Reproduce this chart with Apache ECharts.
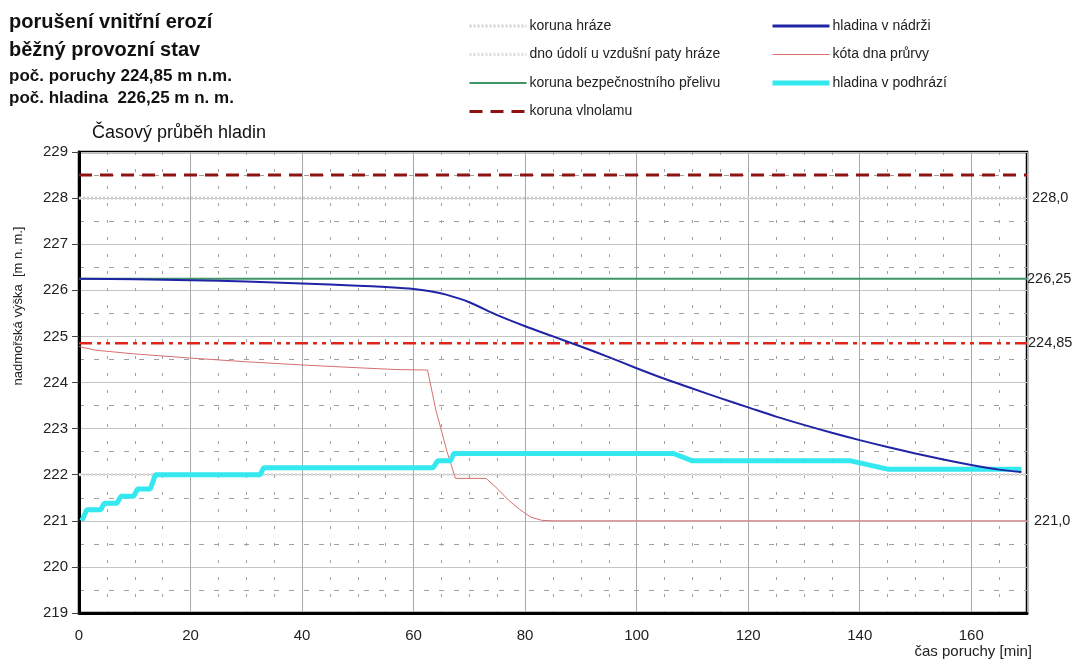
<!DOCTYPE html>
<html lang="cs">

<head>
    <meta charset="UTF-8">
    <title>Časový průběh hladin</title>
    <script src="https://cdn.jsdelivr.net/npm/echarts@6.0.0/dist/echarts.min.js"></script>
    <style>
        html, body { margin: 0; padding: 0; background: #fff; }
    </style>
</head>

<body>
    <div id="chart" style="width: 1073px; height: 666px;"></div>
    <script>
        // konstantní úrovně [m n. m.]
        var korunaHraze = 228.0;
        var dnoUdoli = 222.0;
        var korunaPrelivu = 226.25;
        var korunaVlnolamu = 228.5;
        var pocPoruchy = 224.85;
        var casRozsah = [0, 170];

        // hladina v nádrži
        var tNadrz = [0, 10, 20, 30, 40, 50, 55, 60, 63, 66, 70, 75, 80, 85, 90, 95, 100, 105, 110, 115, 120, 125, 130, 135, 140, 145, 150, 155, 160, 165, 169];
        var hNadrz = [226.25, 226.24, 226.22, 226.19, 226.15, 226.1, 226.07, 226.03, 225.98, 225.9, 225.74, 225.46, 225.22, 225.0, 224.78, 224.55, 224.31, 224.08, 223.87, 223.66, 223.46, 223.26, 223.08, 222.91, 222.75, 222.6, 222.46, 222.33, 222.21, 222.11, 222.06];

        // kóta dna průrvy
        var tPrurva = [0, 3, 10, 20, 30, 40, 50, 57, 62.5, 64, 66, 67.5, 73, 75, 77, 79, 81, 83, 85, 170];
        var hPrurva = [224.78, 224.7, 224.62, 224.53, 224.45, 224.38, 224.32, 224.28, 224.27, 223.4, 222.5, 221.92, 221.92, 221.7, 221.45, 221.25, 221.08, 221.01, 221.0, 221.0];

        // hladina v podhrází
        var tPodhrazi = [0.5, 1.4, 3.9, 4.5, 6.8, 7.5, 9.8, 10.5, 12.8, 13.7, 32.5, 33.1, 63.5, 64.3, 66.6, 67.2, 106.6, 110, 138.4, 145, 169];
        var hPodhrazi = [221.0, 221.24, 221.24, 221.38, 221.38, 221.53, 221.53, 221.69, 221.69, 222.0, 222.0, 222.15, 222.15, 222.3, 222.3, 222.46, 222.46, 222.3, 222.3, 222.12, 222.12];

        function pairs(xs, ys) {
            return xs.map(function (x, i) { return [x, ys[i]]; });
        }
        function level(v) {
            return [[casRozsah[0], v], [casRozsah[1], v]];
        }
        function endLbl(text, dist) {
            return {
                show: true,
                formatter: text,
                color: '#222',
                fontSize: 14.5,
                fontFamily: 'Liberation Sans',
                distance: dist
            };
        }

        var font = 'Liberation Sans';
        var chart = echarts.init(document.getElementById('chart'));

        var legendBase = {
            orient: 'vertical',
            top: 14,
            itemWidth: 57,
            itemHeight: 14,
            itemGap: 14.5,
            selectedMode: false,
            itemStyle: { opacity: 0 },
            lineStyle: { width: 'inherit' },
            textStyle: { fontSize: 14, color: '#222', padding: [0, 0, 0, -2] }
        };

        var option = {
            backgroundColor: '#fff',
            animation: false,
            textStyle: { fontFamily: font },
            title: [
                { text: 'porušení vnitřní erozí', left: 4, top: 7, textStyle: { fontSize: 20, fontWeight: 'bold', color: '#111', fontFamily: font } },
                { text: 'běžný provozní stav', left: 4, top: 35, textStyle: { fontSize: 20, fontWeight: 'bold', color: '#111', fontFamily: font } },
                { text: 'poč. poruchy 224,85 m n.m.', left: 4, top: 63, textStyle: { fontSize: 17, fontWeight: 'bold', color: '#111', fontFamily: font } },
                { text: 'poč. hladina  226,25 m n. m.', left: 4, top: 85, textStyle: { fontSize: 17, fontWeight: 'bold', color: '#111', fontFamily: font } },
                { text: 'Časový průběh hladin', left: 87, top: 119, textStyle: { fontSize: 18, fontWeight: 'normal', color: '#111', fontFamily: font } }
            ],
            legend: [
                Object.assign({}, legendBase, {
                    left: 463,
                    data: [
                        { name: 'koruna hráze', lineStyle: { width: 3 } },
                        { name: 'dno údolí u vzdušní paty hráze', lineStyle: { width: 3 } },
                        { name: 'koruna bezpečnostního přelivu', lineStyle: { width: 2 } },
                        { name: 'koruna vlnolamu', lineStyle: { width: 3 } }
                    ]
                }),
                Object.assign({}, legendBase, {
                    left: 765,
                    data: [
                        { name: 'hladina v nádrži', lineStyle: { width: 3 } },
                        { name: 'kóta dna průrvy', lineStyle: { width: 1 } },
                        { name: 'hladina v podhrází', lineStyle: { width: 5 } }
                    ]
                })
            ],
            grid: {
                left: 79,
                right: 46,
                top: 152,
                bottom: 53,
                show: true,
                borderColor: '#000',
                borderWidth: 2.5,
                backgroundColor: '#fff'
            },
            xAxis: {
                type: 'value',
                min: casRozsah[0],
                max: casRozsah[1],
                interval: 20,
                axisLine: { onZero: false, lineStyle: { color: '#000', width: 3 } },
                axisTick: { show: false },
                axisLabel: { fontSize: 15, color: '#222', margin: 15, showMaxLabel: false },
                splitLine: { lineStyle: { color: '#a8a8a8', width: 1 } },
                minorTick: { show: false, splitNumber: 4 },
                minorSplitLine: { show: true, lineStyle: { color: '#a0a0a0', width: 1, type: [3, 14] } }
            },
            yAxis: {
                type: 'value',
                min: 219,
                max: 229,
                interval: 1,
                axisLine: { lineStyle: { color: '#000', width: 3 } },
                axisTick: { show: true, length: 7, lineStyle: { color: '#444', width: 1 } },
                axisLabel: { fontSize: 15, color: '#222', margin: 11 },
                splitLine: { lineStyle: { color: '#c4c4c4', width: 1 } },
                minorTick: { show: false, splitNumber: 2 },
                minorSplitLine: { show: true, lineStyle: { color: '#a0a0a0', width: 1, type: [5, 10] } }
            },
            graphic: [
                {
                    type: 'text',
                    right: 41,
                    top: 644,
                    style: { text: 'čas poruchy [min]', fontSize: 15, fill: '#222', fontFamily: font }
                },
                {
                    type: 'text',
                    x: 18,
                    y: 306,
                    rotation: Math.PI / 2,
                    style: {
                        text: 'nadmořská výška  [m n. m.]',
                        fontSize: 13,
                        fill: '#222',
                        fontFamily: font,
                        align: 'center',
                        verticalAlign: 'middle'
                    }
                }
            ],
            series: [
                {
                    name: 'koruna hráze',
                    type: 'line',
                    symbol: 'none',
                    z: 3,
                    data: level(korunaHraze),
                    lineStyle: { color: '#d0d0d0', width: 3, type: [2, 2] },
                    itemStyle: { color: '#d0d0d0' },
                    endLabel: endLbl('228,0', 5)
                },
                {
                    name: 'dno údolí u vzdušní paty hráze',
                    type: 'line',
                    symbol: 'none',
                    z: 3,
                    data: level(dnoUdoli),
                    lineStyle: { color: '#dcdcdc', width: 3, type: [2, 2] },
                    itemStyle: { color: '#dcdcdc' }
                },
                {
                    name: 'koruna bezpečnostního přelivu',
                    type: 'line',
                    symbol: 'none',
                    z: 4,
                    data: level(korunaPrelivu),
                    lineStyle: { color: '#3f9468', width: 2 },
                    itemStyle: { color: '#3f9468' },
                    endLabel: endLbl('226,25', 0)
                },
                {
                    name: 'koruna vlnolamu',
                    type: 'line',
                    symbol: 'none',
                    z: 4,
                    data: level(korunaVlnolamu),
                    lineStyle: { color: '#8e1414', width: 3, type: [13, 8] },
                    itemStyle: { color: '#8e1414' }
                },
                {
                    name: 'poč. poruchy',
                    type: 'line',
                    symbol: 'none',
                    z: 4,
                    data: level(pocPoruchy),
                    lineStyle: { color: '#e2231c', width: 2.5, type: [13, 5, 4, 5, 4, 5] },
                    itemStyle: { color: '#e2231c' },
                    endLabel: endLbl('224,85', 1)
                },
                {
                    name: 'kóta dna průrvy',
                    type: 'line',
                    symbol: 'none',
                    z: 5,
                    data: pairs(tPrurva, hPrurva),
                    lineStyle: { color: '#d86f6f', width: 1 },
                    itemStyle: { color: '#d86f6f' },
                    endLabel: endLbl('221,0', 7)
                },
                {
                    name: 'hladina v podhrází',
                    type: 'line',
                    symbol: 'none',
                    z: 6,
                    data: pairs(tPodhrazi, hPodhrazi),
                    lineStyle: { color: '#33e8ee', width: 5 },
                    itemStyle: { color: '#33e8ee' }
                },
                {
                    name: 'hladina v nádrži',
                    type: 'line',
                    symbol: 'none',
                    smooth: 0.3,
                    z: 7,
                    data: pairs(tNadrz, hNadrz),
                    lineStyle: { color: '#1f24a6', width: 2 },
                    itemStyle: { color: '#1f24a6' }
                }
            ]
        };

        chart.setOption(option);
        window.addEventListener('resize', function () {
            chart.resize();
        });
    </script>
</body>

</html>
